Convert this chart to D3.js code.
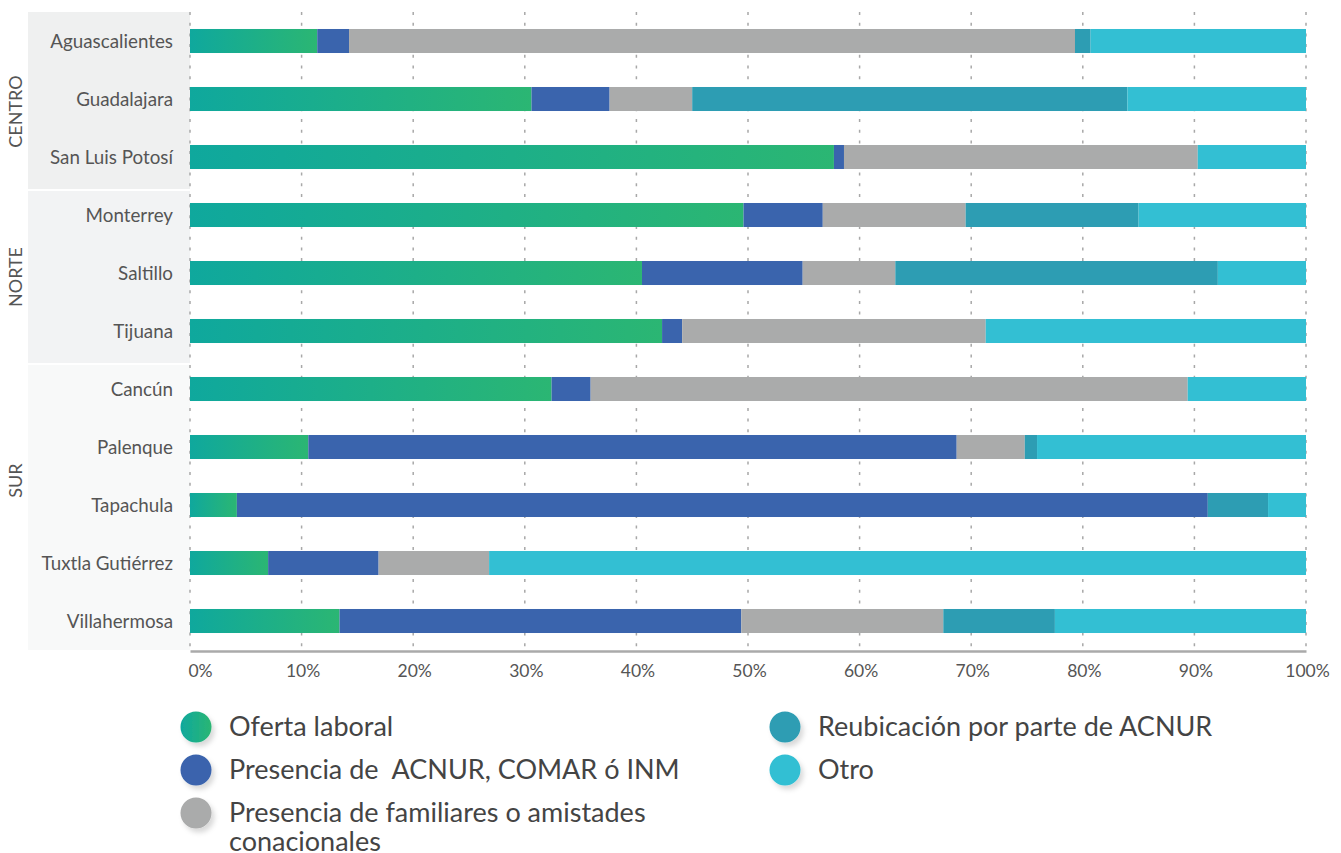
<!DOCTYPE html>
<html><head><meta charset="utf-8">
<script src="https://cdn.jsdelivr.net/npm/d3@7"></script>
<style>body{margin:0;background:#fff;} text{font-family:Lato, "Open Sans", sans-serif; white-space:pre;}</style>
</head><body><svg id="c" width="1341" height="853"></svg>
<script>
const cities = ["Aguascalientes","Guadalajara","San Luis Potosí","Monterrey","Saltillo","Tijuana","Cancún","Palenque","Tapachula","Tuxtla Gutiérrez","Villahermosa"];
const regions = ["CENTRO","CENTRO","CENTRO","NORTE","NORTE","NORTE","SUR","SUR","SUR","SUR","SUR"];
const seriesNames = ["Oferta laboral","Presencia de  ACNUR, COMAR ó INM","Presencia de familiares o amistades conacionales","Reubicación por parte de ACNUR","Otro"];
const ofertaLaboral       = [11.4, 30.6, 57.7, 49.6, 40.5, 42.3, 32.4, 10.6,  4.2,  7.0, 13.4];
const presenciaAcnur      = [2.85,  7.0,  0.9,  7.1, 14.4,  1.8,  3.5, 58.1, 87.0,  9.9, 36.0];
const presenciaFamiliares = [65.05, 7.4, 31.7, 12.8,  8.3, 27.2, 53.5,  6.1,  0.0,  9.9, 18.1];
const reubicacion         = [1.4,  39.0,  0.0, 15.5, 28.9,  0.0,  0.0,  1.1,  5.4,  0.0, 10.0];
const otro                = [19.3, 16.0,  9.7, 15.0,  7.9, 28.7, 10.6, 24.1,  3.4, 73.2, 22.5];
const tickValues = [0,10,20,30,40,50,60,70,80,90,100];
const tickLabels = ["0%","10%","20%","30%","40%","50%","60%","70%","80%","90%","100%"];

const seriesValues = [ofertaLaboral, presenciaAcnur, presenciaFamiliares, reubicacion, otro];
const colors = ["url(#gGreen)","#3a64ad","#aaabab","#2d9db3","#33bfd3"];

const svg = d3.select("#c");
const defs = svg.append("defs");
const gr = defs.append("linearGradient").attr("id","gGreen").attr("x1","0").attr("x2","1").attr("y1","0").attr("y2","0");
gr.append("stop").attr("offset","0%").attr("stop-color","#0fa89d");
gr.append("stop").attr("offset","100%").attr("stop-color","#2bb673");
const f = defs.append("filter").attr("id","shadow").attr("x","-50%").attr("y","-50%").attr("width","200%").attr("height","200%");
f.append("feDropShadow").attr("dx",3).attr("dy",4).attr("stdDeviation",2.5).attr("flood-color","#000").attr("flood-opacity",0.15);

const x = d3.scaleLinear().domain([0,100]).range([190,1306]);
const y = d3.scaleBand().domain(cities).range([12,650]).paddingInner(0.586).paddingOuter(0.293);

// region panels
const regionNames = ["CENTRO","NORTE","SUR"];
const panelFill = {CENTRO:"#eff0f0", NORTE:"#f2f3f4", SUR:"#f8f9f9"};
const regionLabelShift = {CENTRO:11, NORTE:0, SUR:-27};
regionNames.forEach((r,ri)=>{
  const idx = cities.filter((c,i)=>regions[i]===r);
  const step = y.step(), gap = (step - y.bandwidth())/2;
  const top = ri===0 ? 12 : y(idx[0]) - gap + 5;
  const bot = ri===regionNames.length-1 ? 650 : y(idx[idx.length-1]) + y.bandwidth() + gap + 3;
  svg.append("rect").attr("x",28).attr("y",top).attr("width",190-28).attr("height",bot-top).attr("fill",panelFill[r]);
  const cy = (top+bot)/2 + regionLabelShift[r];
  svg.append("text").attr("transform",`translate(22,${cy}) rotate(-90)`).attr("text-anchor","middle")
    .attr("font-size",18).attr("fill","#555").text(r);
});

// grid
svg.append("g").selectAll("line").data(tickValues).join("line")
  .attr("x1",d=>x(d)).attr("x2",d=>x(d)).attr("y1",12).attr("y2",650)
  .attr("stroke","#a8a8a8").attr("stroke-width",1.5).attr("stroke-dasharray","3,7.7");

// bars
const table = cities.map((c,i)=>{const o={city:c}; seriesNames.forEach((s,k)=>o[s]=seriesValues[k][i]); return o;});
const stack = d3.stack().keys(seriesNames)(table);
svg.append("g").selectAll("g").data(stack).join("g").attr("fill",(d,i)=>colors[i])
  .selectAll("rect").data(d=>d.filter(e=>e[1]-e[0]>0)).join("rect")
  .attr("x",d=>x(d[0])).attr("width",d=>x(d[1])-x(d[0]))
  .attr("y",d=>y(d.data.city)).attr("height",y.bandwidth());

// city labels
svg.append("g").selectAll("text").data(cities).join("text")
  .attr("x",173).attr("y",d=>y(d)+y.bandwidth()/2).attr("dy","0.35em").attr("text-anchor","end")
  .attr("font-size",18.8).attr("fill","#555").text(d=>d);

// x axis
const axis = svg.append("g").attr("transform","translate(0,651)")
  .call(d3.axisBottom(x).tickValues(tickValues).tickFormat((d,i)=>tickLabels[i]).tickSize(0).tickPadding(14));
axis.select(".domain").attr("stroke","#aaa").attr("stroke-width",2.5);
axis.selectAll("text").attr("font-size",17.5).attr("fill","#555").attr("font-family","Lato, sans-serif")
  .attr("dx",(d,i)=>i===0?10:1);

// legend
const legendPos = [[196,727],[196,770],[196,813],[785,727],[785,770]];
const legendColors = ["url(#gGreen)","#3a64ad","#aaabab","#2d9db3","#33bfd3"];
const lg = svg.append("g").selectAll("g").data(seriesNames).join("g")
  .attr("transform",(d,i)=>`translate(${legendPos[i][0]},${legendPos[i][1]})`);
lg.append("circle").attr("r",15.5).attr("fill",(d,i)=>legendColors[i]).attr("filter","url(#shadow)");
lg.each(function(d){
  const t = d3.select(this).append("text").attr("x",33).attr("y",0)
    .attr("font-size",27).attr("fill","#444");
  const words = d.split(" ");
  let line = [];
  let ts = t.append("tspan").attr("x",33).attr("dy","0.35em");
  for (let k=0;k<words.length;k++){
    line.push(words[k]);
    ts.text(line.join(" "));
    if (ts.node().getComputedTextLength() > 480 && line.length>1){
      line.pop(); ts.text(line.join(" "));
      line=[words[k]];
      ts = t.append("tspan").attr("x",33).attr("dy",29).text(words[k]);
    }
  }
});
</script></body></html>
